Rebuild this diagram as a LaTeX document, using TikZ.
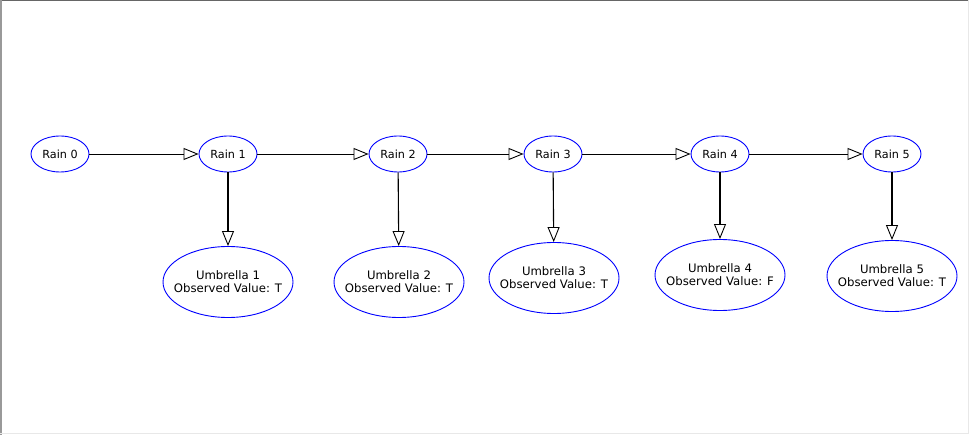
\documentclass[tikz,border=0pt]{standalone}
\usepackage{fontspec}
\setmainfont{DejaVu Sans}
\usetikzlibrary{arrows.meta,shapes.geometric}
\begin{document}
\begin{tikzpicture}
[x=1pt,y=-1pt,color=black,
 rain/.style={ellipse,draw=blue,line width=0.9pt,inner xsep=-14pt,inner ysep=0pt,
   minimum width=58pt,minimum height=36pt,font=\fontsize{11.2}{12.5}\selectfont},
 umb/.style={rain,minimum width=130pt,minimum height=71pt,align=center,
   font=\fontsize{11.7}{12.8}\selectfont},
 link/.style={line width=0.9pt,-{Triangle[open,length=15pt,width=12pt,line width=0.9pt]}}]
  \useasboundingbox (0,0) rectangle (969,435);
  % frame
  \draw[black!60,line width=1pt] (0,0.5) -- (969,0.5);
  \draw[black!40,line width=1.5pt] (0.75,0) -- (0.75,435);
  \draw[black!9,line width=1pt] (968.5,0) -- (968.5,433.5) -- (0,433.5);
  \foreach \i/\x in {0/60,1/228,2/398,3/553,4/720,5/892}
  \node[rain] (r\i) at (\x,154) {Rain \i};
  \foreach \i/\x/\y/\v in {1/228/282/T,2/399/282/T,3/554/278/T,4/720/275/F,5/892/276/T}
  \node[umb] (u\i) at (\x,\y) {Umbrella \i\\Observed Value: \v};
  \foreach \from/\to in {r0/r1,r1/r2,r2/r3,r3/r4,r4/r5}
  \draw[link] (\from) -- (\to);
  \foreach \i in {1,...,5}
  \draw[link,line width=1.1pt] (r\i) -- (u\i);
\end{tikzpicture}
\end{document}
